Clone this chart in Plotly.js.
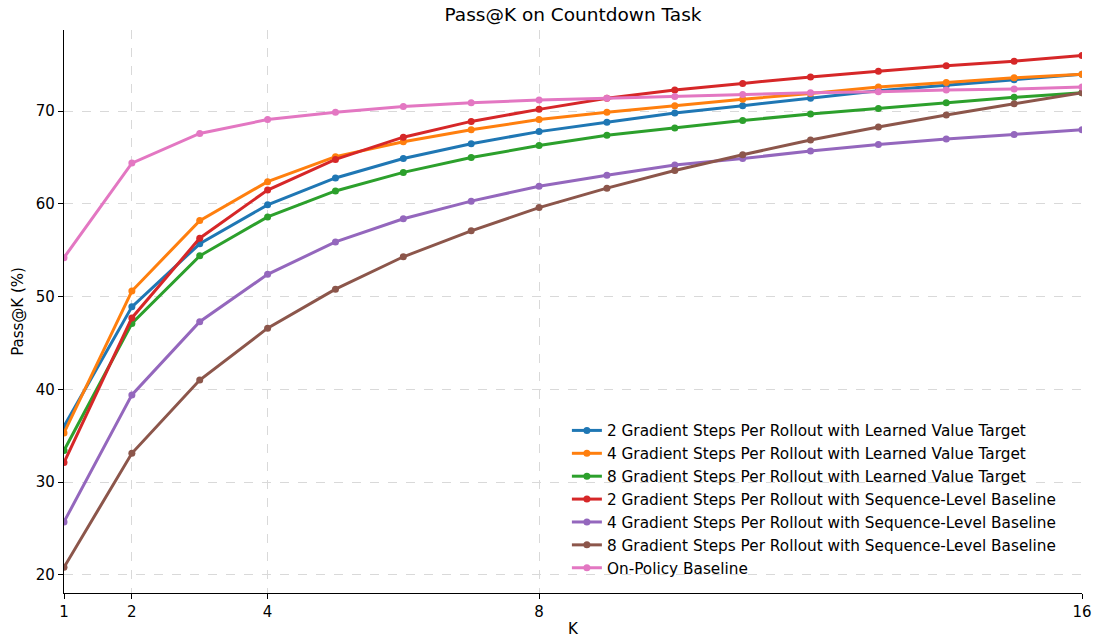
<!DOCTYPE html>
<html>
<head>
<meta charset="utf-8">
<script src="https://cdn.plot.ly/plotly-3.0.1.min.js"></script>
<style>html,body{margin:0;padding:0;background:#fff}#chart{width:1094px;height:638px}</style>
</head>
<body>
<div id="chart"></div>
<script>
const K = [1,2,3,4,5,6,7,8,9,10,11,12,13,14,15,16];
const seriesNames = [
  "2 Gradient Steps Per Rollout with Learned Value Target",
  "4 Gradient Steps Per Rollout with Learned Value Target",
  "8 Gradient Steps Per Rollout with Learned Value Target",
  "2 Gradient Steps Per Rollout with Sequence-Level Baseline",
  "4 Gradient Steps Per Rollout with Sequence-Level Baseline",
  "8 Gradient Steps Per Rollout with Sequence-Level Baseline",
  "On-Policy Baseline"
];
const gs2Learned = [36.0,48.9,55.7,59.9,62.8,64.9,66.5,67.8,68.8,69.8,70.6,71.4,72.2,72.8,73.4,74.0];
const gs4Learned = [35.3,50.6,58.2,62.4,65.1,66.7,68.0,69.1,69.9,70.6,71.3,71.9,72.6,73.1,73.6,74.0];
const gs8Learned = [33.4,47.1,54.4,58.6,61.4,63.4,65.0,66.3,67.4,68.2,69.0,69.7,70.3,70.9,71.5,72.0];
const gs2Seq = [32.1,47.7,56.3,61.5,64.8,67.2,68.9,70.2,71.4,72.3,73.0,73.7,74.3,74.9,75.4,76.0];
const gs4Seq = [25.7,39.4,47.3,52.4,55.9,58.4,60.3,61.9,63.1,64.2,64.9,65.7,66.4,67.0,67.5,68.0];
const gs8Seq = [20.8,33.1,41.0,46.6,50.8,54.3,57.1,59.6,61.7,63.6,65.3,66.9,68.3,69.6,70.8,72.0];
const onPolicy = [54.2,64.4,67.6,69.1,69.9,70.5,70.9,71.2,71.4,71.6,71.8,72.0,72.1,72.3,72.4,72.6];
const xTicks = [1,2,4,8,16];
const yTicks = [20,30,40,50,60,70];

const allSeries = [gs2Learned, gs4Learned, gs8Learned, gs2Seq, gs4Seq, gs8Seq, onPolicy];
const colors = ["#1f77b4","#ff7f0e","#2ca02c","#d62728","#9467bd","#8c564b","#e377c2"];

const traces = allSeries.map((ys, i) => ({
  x: K, y: ys, name: seriesNames[i], type: "scatter", mode: "lines+markers",
  line: {color: colors[i], width: 3},
  marker: {color: colors[i], size: 7},
  cliponaxis: true
}));

const font = "DejaVu Sans, sans-serif";
const layout = {
  width: 1094, height: 638,
  margin: {l: 64, r: 12, t: 30, b: 45},
  paper_bgcolor: "#fff", plot_bgcolor: "#fff",
  font: {family: font, size: 15, color: "#000"},
  title: {text: "Pass@K on Countdown Task", font: {family: font, size: 18.5, color: "#000"}, xref: "paper", x: 0.5, xanchor: "center", y: 0.977, yanchor: "middle"},
  showlegend: true,
  legend: {x: 0.494, xanchor: "left", y: 0.318, yanchor: "top", bgcolor: "rgba(0,0,0,0)", borderwidth: 0, font: {family: font, size: 15.3, color: "#000"}},
  xaxis: {
    range: [1, 16], tickvals: xTicks, ticktext: xTicks.map(String),
    showgrid: true, gridcolor: "#d9d9d9", griddash: "dash", gridwidth: 1,
    showline: true, linecolor: "#000", linewidth: 1.2, mirror: false,
    ticks: "outside", ticklen: 5, tickcolor: "#000", zeroline: false,
    tickfont: {family: font, size: 15, color: "#000"},
    title: {text: "K", font: {family: font, size: 15, color: "#000"}, standoff: 16}
  },
  yaxis: {
    range: [18.03, 78.76], tickvals: yTicks, ticktext: yTicks.map(String),
    showgrid: true, gridcolor: "#d9d9d9", griddash: "dash", gridwidth: 1,
    showline: true, linecolor: "#000", linewidth: 1.2, mirror: false,
    ticks: "outside", ticklen: 5, tickcolor: "#000", zeroline: false,
    tickfont: {family: font, size: 15, color: "#000"},
    title: {text: "Pass@K (%)", font: {family: font, size: 15, color: "#000"}, standoff: 8}
  }
};

Plotly.newPlot("chart", traces, layout, {displayModeBar: false, staticPlot: true});
</script>
</body>
</html>
